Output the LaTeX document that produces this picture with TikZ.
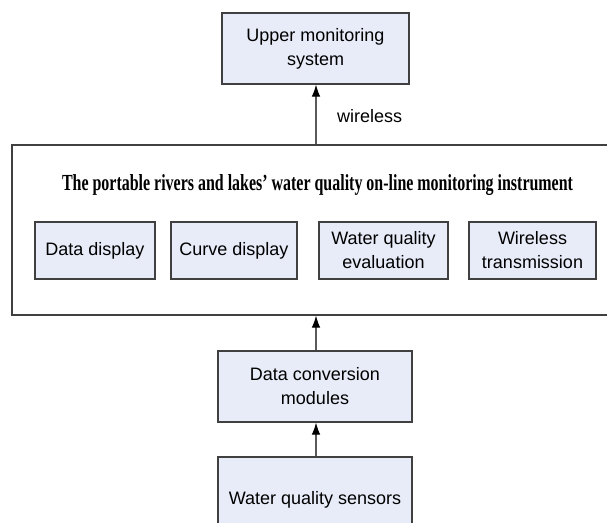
\documentclass[tikz,border=0pt]{standalone}
\usepackage{fontspec}
\usepackage{graphicx}
\setmainfont{Liberation Sans}
\newfontfamily\titlefont{Liberation Serif}
\usetikzlibrary{arrows.meta}
\definecolor{boxfill}{HTML}{E8ECF8}
\definecolor{boxline}{HTML}{404040}
\definecolor{arrline}{HTML}{5A5A5A}
\tikzset{
  blk/.style={draw=boxline, line width=1.1pt, fill=boxfill, align=center, inner sep=0pt,
    font=\fontsize{18}{24}\selectfont},
  frame/.style={draw=boxline, line width=1.1pt, inner sep=0pt},
  link/.style={draw=arrline, line width=1.1pt, -{Latex[length=12pt,width=8.5pt,color=black]}},
  lbl/.style={font=\fontsize{18}{24}\selectfont, inner sep=0pt, anchor=west}
}
\begin{document}
\begin{tikzpicture}[x=1pt,y=-1pt]
\clip (0,0) rectangle (607,522);
\useasboundingbox (0,0) rectangle (607,522);
% outer instrument frame (right side cut off by picture edge)
\node[frame, minimum width=610pt, minimum height=170pt] (inst) at (317,230) {};
\node[font=\titlefont\bfseries\fontsize{23}{26}\selectfont, inner sep=0pt] (title) at (317.5,185)
  {\resizebox{511pt}{\height}{The portable rivers and lakes’ water quality on-line monitoring instrument}};
% upper system
\node[blk, minimum width=187pt, minimum height=71pt] (up) at (315.5,48.5) {Upper monitoring\\system};
% function boxes
\node[blk, minimum width=120pt, minimum height=57pt] (dd) at (95,250.5) {Data display};
\node[blk, minimum width=126pt, minimum height=57pt] (cd) at (234,250.5) {Curve display};
\node[blk, minimum width=129pt, minimum height=57pt] (wq) at (383.5,250.5) {Water quality\\evaluation};
\node[blk, minimum width=127pt, minimum height=57pt] (wt) at (532.5,250.5) {Wireless\\transmission};
% lower chain
\node[blk, minimum width=194pt, minimum height=71pt] (dc) at (315,386.5) {Data conversion\\modules};
\node[blk, minimum width=194pt, minimum height=86pt] (ws) at (315,500) {Water quality sensors};
% connectors
\draw[link] (ws.north -| 316,0) -- (dc.south -| 316,0);
\draw[link] (dc.north -| 316,0) -- (inst.south -| 316,0);
\draw[link] (inst.north -| 316,0) -- (up.south -| 316,0);
\node[lbl] (wl) at (337,116) {wireless};
\end{tikzpicture}
\end{document}
